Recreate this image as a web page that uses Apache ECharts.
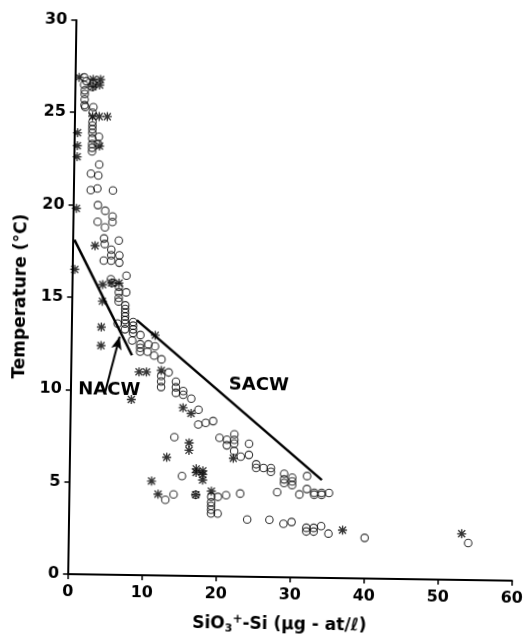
<!DOCTYPE html>
<html>
<head>
<meta charset="utf-8">
<script src="https://cdn.jsdelivr.net/npm/echarts@6.0.0/dist/echarts.min.js"></script>
<style>
  html, body { margin: 0; padding: 0; background: #fff; }
  /* the scanned figure is slightly turned clockwise */
  #chart { width: 530px; height: 640px; transform: rotate(0.85deg); transform-origin: 265px 320px; }
</style>
</head>
<body>
<div id="chart"></div>
<script>
// open circles: [SiO3-Si, temperature]
const openCircles = [
  [1.2,26.9],[1.5,26.7],[1.2,26.5],[2.4,26.6],[2.3,26.4],[1.3,26.2],[1.3,26.0],[1.3,25.7],[1.3,25.4],[1.4,25.3],[2.5,25.3],[2.4,25.0],
  [2.4,24.5],[2.4,24.3],[2.4,24.1],[2.4,23.9],[2.4,23.6],[2.4,23.3],[2.4,23.1],[2.4,22.9],[3.3,23.7],[3.2,23.3],
  [3.4,22.2],[2.3,21.7],[3.3,21.6],[2.3,20.8],[3.2,20.9],[5.3,20.8],
  [3.3,20.0],[4.3,19.7],[5.3,19.4],[3.3,19.1],[4.3,18.8],[5.3,19.1],
  [4.2,18.2],[6.2,18.1],[4.3,17.9],[5.2,17.6],[5.2,17.3],[6.3,17.3],[4.2,17.0],[5.2,17.0],[6.3,16.9],
  [7.3,16.2],[5.2,16.0],[5.4,15.8],[6.3,15.6],[6.3,15.3],[6.3,15.0],[6.3,14.8],[7.3,15.3],
  [7.2,14.6],[7.2,14.4],[7.2,14.2],[7.2,14.0],[7.2,13.8],[7.2,13.6],
  [6.2,13.6],[7.2,13.3],
  [8.3,13.7],[8.3,13.5],[8.3,13.3],[8.3,13.1],[9.3,13.0],[8.2,12.7],
  [9.3,12.5],[9.3,12.3],[9.3,12.1],[10.4,12.5],[10.3,12.1],[11.3,12.4],[11.2,11.9],[12.2,11.7],
  [12.2,10.8],[12.2,10.5],[12.2,10.2],[13.2,11.0],
  [14.2,10.5],[14.2,10.2],[14.2,9.9],[15.2,10.0],[15.2,9.8],[16.3,9.6],[17.3,9.0],
  [17.3,8.2],[18.3,8.3],[19.3,8.4],[14.1,7.5],
  [20.2,7.5],[21.2,7.4],[21.2,7.1],[22.2,7.7],[22.2,7.4],[22.2,7.2],[22.2,6.8],[23.1,6.5],[24.2,7.2],[24.2,6.6],
  [25.2,6.1],[25.2,5.9],[26.2,5.9],[27.2,5.9],[27.2,5.7],
  [29.0,5.6],[29.0,5.3],[29.0,5.1],[30.1,5.4],[30.1,5.2],[30.1,5.0],
  [28.1,4.6],[32.1,5.5],[32.1,4.8],[31.1,4.5],[33.1,4.6],[34.1,4.6],[35.1,4.6],[33.1,4.5],[34.1,4.5],
  [15.2,5.4],[13.0,4.1],[14.1,4.4],[17.1,4.4],
  [19.2,4.3],[19.2,4.0],[19.2,3.8],[19.2,3.6],[19.2,3.4],[20.1,4.3],[21.2,4.4],[20.1,3.4],[23.1,4.5],
  [24.1,3.1],[27.1,3.1],[29.0,2.9],[30.1,3.0],
  [32.1,2.7],[32.1,2.5],[33.1,2.7],[33.1,2.5],[34.1,2.8],[35.1,2.4],[40.0,2.2],[54.0,2.0]
];

// asterisks
const stars = [
  [0.5,26.9],[2.4,26.8],[3.4,26.8],[3.3,26.5],[2.4,26.4],[2.4,24.8],[3.3,24.8],[4.4,24.8],[3.4,23.2],
  [0.4,23.9],[0.4,23.2],[0.4,22.6],[0.4,19.8],[0.3,16.5],
  [3.0,17.8],[4.1,15.7],[5.3,15.8],[6.3,15.8],[4.1,14.8],[4.0,13.4],[4.0,12.4],
  [11.3,13.0],[9.2,11.0],[10.2,11.0],[12.2,11.1],[8.2,9.5],[15.2,9.1],[16.3,8.8],
  [16.1,7.2],[16.1,6.8],[13.1,6.4],[17.1,5.8],[17.1,5.6],[18.0,5.7],[18.0,5.5],[18.0,5.2],
  [11.1,5.1],[12.0,4.4],[17.1,4.4],[19.2,4.6],[22.1,6.4],[37.0,2.6],[53.1,2.5]
];

// water mass lines and the arrow pointing at NACW
const nacwLine = [[0.2, 18.1], [8.2, 11.9]];
const sacwLine = [[8.8, 13.8], [34.1, 5.3]];
const arrowTail = [4.6, 9.8];
const arrowHead = [6.5, 12.9];

const labelNames = ['NACW', 'SACW'];
const labelX = [5.2, 25.4];
const labelY = [10.0, 10.4];

const xTicks = { min: 0, max: 60, step: 10 };
const yTicks = { min: 0, max: 30, step: 5 };

const FONT = 'DejaVu Sans';
const STAR = 'path://M8.5,0h3v20h-3z M0,8.5h20v3h-20z M3.3,1.2L18.8,16.7L16.7,18.8L1.2,3.3z M16.7,1.2L18.8,3.3L3.3,18.8L1.2,16.7z M7,7h6v6h-6z';

const chart = echarts.init(document.getElementById('chart'));

const axisCommon = {
  type: 'value',
  nameLocation: 'middle',
  nameTextStyle: { fontFamily: FONT, fontWeight: 'bold', fontSize: 17, color: '#000' },
  axisLine: { show: true, onZero: false, lineStyle: { color: '#000', width: 2 } },
  axisTick: { show: true, length: 5, lineStyle: { color: '#000', width: 1.5 } },
  axisLabel: { color: '#000', fontFamily: FONT, fontWeight: 'bold', fontSize: 16 },
  splitLine: { show: false }
};

chart.setOption({
  animation: false,
  backgroundColor: '#fff',
  grid: { left: 71.8, top: 22.9, width: 450, height: 558 },
  xAxis: Object.assign({}, axisCommon, {
    min: xTicks.min, max: xTicks.max, interval: xTicks.step,
    name: 'SiO{sub|3}{sup|+}-Si (μg - at/ℓ)',
    nameGap: 37,
    nameTextStyle: Object.assign({}, axisCommon.nameTextStyle, {
      padding: [0, 20, 0, 0],
      rich: {
        sub: { fontFamily: FONT, fontWeight: 'bold', fontSize: 11, color: '#000', padding: [10, 0, 0, 0] },
        sup: { fontFamily: FONT, fontWeight: 'bold', fontSize: 12, color: '#000', padding: [0, 0, 9, 0] }
      }
    }),
    axisLabel: Object.assign({}, axisCommon.axisLabel, { margin: 10 })
  }),
  yAxis: Object.assign({}, axisCommon, {
    min: yTicks.min, max: yTicks.max, interval: yTicks.step,
    name: 'Temperature (°C)',
    nameGap: 43,
    axisLabel: Object.assign({}, axisCommon.axisLabel, { margin: 9 })
  }),
  series: [
    {
      name: 'circles', type: 'scatter', data: openCircles,
      symbol: 'circle', symbolSize: 7.5,
      itemStyle: { color: 'rgba(0,0,0,0)', borderColor: '#000', borderWidth: 1.1 }
    },
    {
      name: 'stars', type: 'scatter', data: stars,
      symbol: STAR, symbolSize: 9,
      itemStyle: { color: '#000' }
    },
    {
      name: 'NACW', type: 'line', data: nacwLine, symbol: 'none',
      lineStyle: { color: '#000', width: 2.5 },
      markLine: {
        silent: true, symbol: ['none', 'arrow'], symbolSize: [8, 13],
        lineStyle: { color: '#000', width: 2, type: 'solid' },
        label: { show: false },
        data: [[{ coord: arrowTail }, { coord: arrowHead }]]
      }
    },
    {
      name: 'SACW', type: 'line', data: sacwLine, symbol: 'none',
      lineStyle: { color: '#000', width: 2.5 }
    },
    {
      name: 'labels', type: 'scatter', symbolSize: 0,
      data: labelNames.map((n, i) => ({ name: n, value: [labelX[i], labelY[i]] })),
      label: {
        show: true, position: 'inside', formatter: p => p.name,
        fontFamily: FONT, fontWeight: 'bold', fontSize: 18, color: '#000',
        textBorderWidth: 0, opacity: 1
      }
    }
  ]
});
</script>
</body>
</html>
